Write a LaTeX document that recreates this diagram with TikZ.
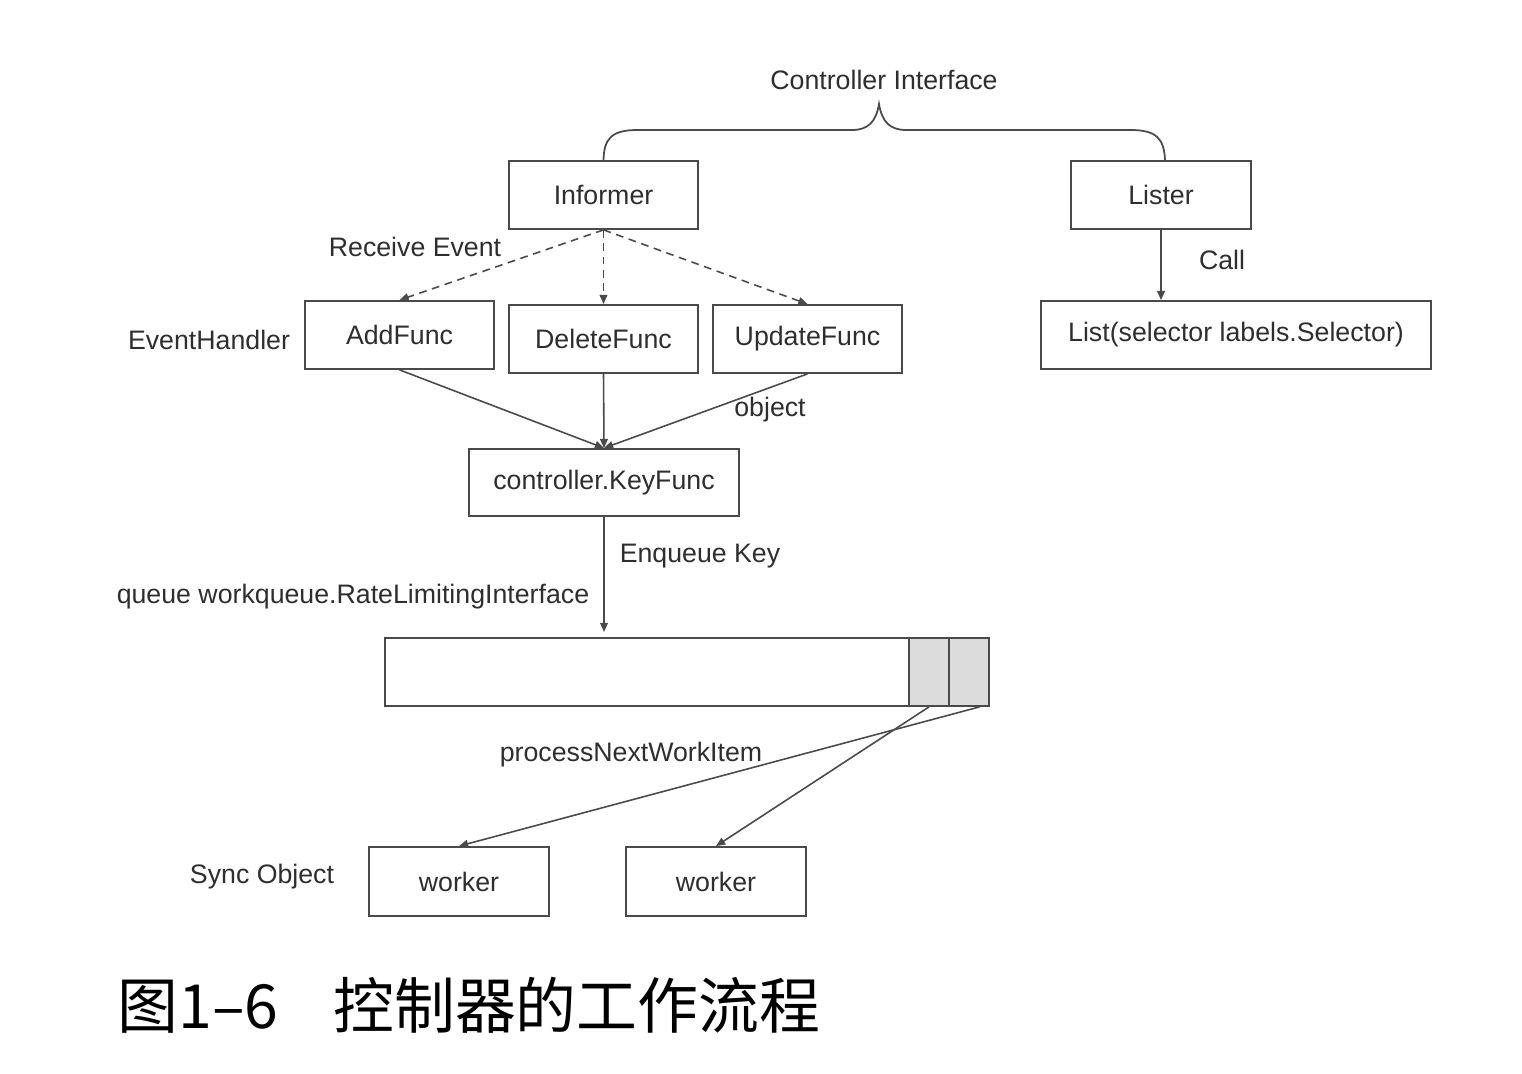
\documentclass[tikz,border=0pt]{standalone}
\usepackage{fontspec}
\setmainfont{Liberation Sans}
\newfontfamily\cjk{Noto Sans CJK SC}
\usetikzlibrary{arrows.meta}
\definecolor{linec}{HTML}{4A4A4A}
\definecolor{txtc}{HTML}{2E2E2E}
\definecolor{cellc}{HTML}{DCDCDC}
\tikzset{
  box/.style={draw=linec, line width=0.5pt, rectangle, inner sep=0pt, text=txtc, font=\fontsize{7.6}{9}\selectfont},
  lbl/.style={text=txtc, inner sep=0pt, font=\fontsize{7.6}{9}\selectfont},
  conn/.style={draw=linec, line width=0.45pt, -{Triangle[length=2.6pt,width=2.2pt]}},
  dconn/.style={conn, dash pattern=on 2.2pt off 1.6pt},
}
\begin{document}
\begin{tikzpicture}[x=0.01cm,y=-0.01cm]
\useasboundingbox (0,0) rectangle (1522,1074);
% boxes
\node[box, minimum width=1.89cm, minimum height=0.68cm] (inf) at (603.5,195) {Informer};
\node[box, minimum width=1.80cm, minimum height=0.68cm] (lis) at (1161,195) {Lister};
\node[box, minimum width=1.89cm, minimum height=0.68cm] (add) at (399.5,335) {AddFunc};
\node[box, minimum width=1.89cm, minimum height=0.68cm] (del) at (603.5,339) {DeleteFunc};
\node[box, minimum width=1.89cm, minimum height=0.68cm] (upd) at (807.5,339) {UpdateFunc};
\node[box, minimum width=3.90cm, minimum height=0.68cm] (lst) at (1236,335) {List(selector labels.Selector)};
\node[box, minimum width=2.70cm, minimum height=0.67cm] (key) at (604,482.5) {controller.KeyFunc};
\node[box, minimum width=6.04cm, minimum height=0.68cm] (que) at (687,672) {};
\node[box, fill=cellc, minimum width=0.40cm, minimum height=0.68cm] (c1) at (929,672) {};
\node[box, fill=cellc, minimum width=0.40cm, minimum height=0.68cm] (c2) at (969,672) {};
\node[box, minimum width=1.80cm, minimum height=0.69cm] (w1) at (459,881.5) {worker};
\node[box, minimum width=1.80cm, minimum height=0.69cm] (w2) at (716,881.5) {worker};
% brace
\draw[linec, line width=0.5pt] (inf.north) .. controls (604,138) and (612,130) .. (638,130) -- (852,130) .. controls (868,130) and (876,122) .. (879,104) .. controls (882,122) and (890,130) .. (906,130) -- (1130,130) .. controls (1156,130) and (1164,138) .. (lis.north -| 1165,0);
% labels
\node[lbl] (ci) at (884,80) {Controller Interface};
\node[lbl] (re) at (415,247) {Receive Event};
\node[lbl] (eh) at (209,340) {EventHandler};
\node[lbl] (ob) at (770,410) {object};
\node[lbl] (ca) at (1222,260) {Call};
\node[lbl] (ek) at (700,556) {Enqueue Key};
\node[lbl] (qw) at (353,597) {queue workqueue.RateLimitingInterface};
\node[lbl] (pn) at (631,755) {processNextWorkItem};
\node[lbl] (so) at (262,877) {Sync Object};
% connectors
\draw[dconn] (inf.south) -- (add.north);
\draw[dconn] (inf.south) -- (del.north);
\draw[dconn] (inf.south) -- (upd.north);
\draw[conn] (add.south) -- (key.north);
\draw[conn] (del.south) -- (key.north);
\draw[conn] (upd.south) -- (key.north);
\draw[conn] (lis.south) -- (lst.north -| lis.south);
\coordinate (qin) at (604,632);
\draw[conn] (key.south) -- (qin);
\draw[conn] (c1.south) -- (w2.north);
\draw[conn] ([xshift=3]c2.south) -- (w1.north);
% caption
\node[anchor=west, inner sep=0pt, text=black, font=\cjk\fontsize{17.3}{21}\selectfont] (cap) at (117,1005) {图1–6\hspace{0.9em}控制器的工作流程};
\end{tikzpicture}
\end{document}
